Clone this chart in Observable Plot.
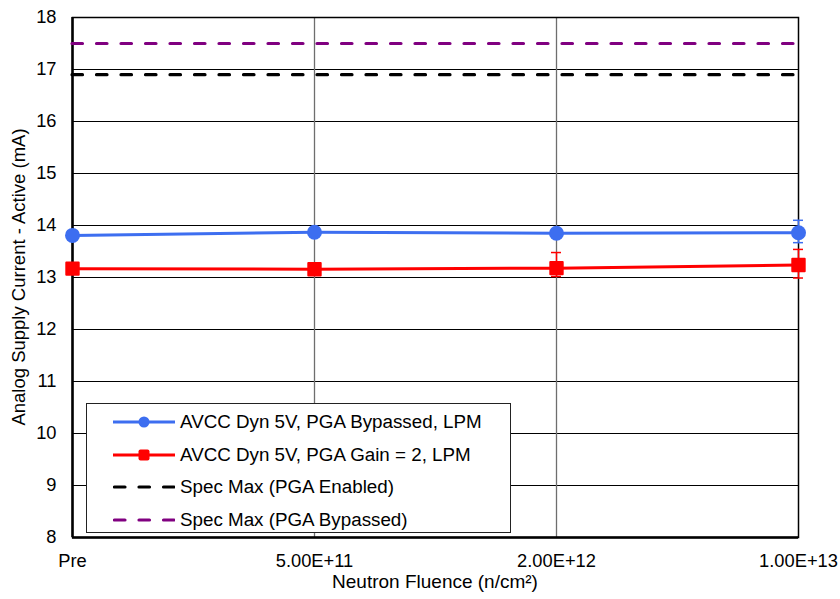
<!DOCTYPE html>
<html>
<head>
<meta charset="utf-8">
<script src="https://cdn.jsdelivr.net/npm/d3@7"></script>
<script src="https://cdn.jsdelivr.net/npm/@observablehq/plot@0.6"></script>
<style>
  html, body { margin: 0; padding: 0; background: #fff; }
  #chart { position: relative; width: 840px; height: 599px; font-family: "Liberation Sans", Arial, sans-serif; }
  #legend {
    position: absolute; left: 86px; top: 403px; width: 425px; height: 130px;
    background: #fff; border: 1px solid #222; box-sizing: border-box;
    padding-top: 2px;
  }
  .row { display: flex; align-items: center; height: 32.5px; font-size: 18.8px; color: #000; }
  .row svg { margin-left: 26px; margin-right: 5px; flex: none; }
</style>
</head>
<body>
<div id="chart"></div>
<script>
// Fluence steps (categorical x axis)
const fluence = ["Pre", "5.00E+11", "2.00E+12", "1.00E+13"];

// Supply current, mA, with upper / lower error extents
const bypassed = [13.81, 13.87, 13.85, 13.86];
const bypassedErrUp = [0.02, 0.02, 0.03, 0.24];
const bypassedErrDown = [0.02, 0.02, 0.03, 0.19];
const gain2 = [13.17, 13.16, 13.18, 13.24];
const gain2ErrUp = [0.02, 0.02, 0.30, 0.30];
const gain2ErrDown = [0.02, 0.02, 0.16, 0.25];

// Specification limits, mA
const specEnabled = 16.9;
const specBypassed = 17.5;

const yTicks = [8, 9, 10, 11, 12, 13, 14, 15, 16, 17, 18];

const seriesNames = [
  "AVCC Dyn 5V, PGA Bypassed, LPM",
  "AVCC Dyn 5V, PGA Gain = 2, LPM",
  "Spec Max (PGA Enabled)",
  "Spec Max (PGA Bypassed)"
];
const colors = { blue: "#3d6ef0", red: "#ff0000", black: "#000000", purple: "#800080" };

const rows = (vals, up, down) => fluence.map((f, i) => ({ f, v: vals[i], lo: vals[i] - down[i], hi: vals[i] + up[i] }));
const blueRows = rows(bypassed, bypassedErrUp, bypassedErrDown);
const redRows = rows(gain2, gain2ErrUp, gain2ErrDown);

const capOpts = (key, color) => ({ x1: "f", x2: "f", y: key, stroke: color, strokeWidth: 1.5, insetLeft: -5, insetRight: -5 });

const plot = Plot.plot({
  width: 840,
  height: 599,
  marginTop: 17,
  marginRight: 42,
  marginBottom: 62,
  marginLeft: 72,
  style: { fontFamily: "'Liberation Sans', Arial, sans-serif", background: "#fff", fontSize: "18.3px" },
  x: { type: "point", domain: fluence, padding: 0 },
  y: { domain: [8, 18] },
  marks: [
    // grid
    Plot.ruleY(yTicks, { stroke: "#000", strokeWidth: 1 }),
    Plot.ruleX(fluence.slice(1, 3), { stroke: "#6e6e6e", strokeWidth: 1.3 }),
    Plot.frame({ stroke: "#000", strokeWidth: 1.5 }),
    Plot.ruleX([fluence[0]], { stroke: "#000", strokeWidth: 2.5 }),
    Plot.ruleY([yTicks[0]], { stroke: "#000", strokeWidth: 2.5 }),
    // spec limits
    Plot.ruleY([specBypassed], { stroke: colors.purple, strokeWidth: 3.2, strokeDasharray: "10.5,14", strokeLinecap: "round" }),
    Plot.ruleY([specEnabled], { stroke: colors.black, strokeWidth: 3.2, strokeDasharray: "10.5,14", strokeLinecap: "round" }),
    // error bars
    Plot.ruleX(blueRows, { x: "f", y1: "lo", y2: "hi", stroke: colors.blue, strokeWidth: 1.5 }),
    Plot.ruleY(blueRows, capOpts("lo", colors.blue)),
    Plot.ruleY(blueRows, capOpts("hi", colors.blue)),
    Plot.ruleX(redRows, { x: "f", y1: "lo", y2: "hi", stroke: colors.red, strokeWidth: 1.5 }),
    Plot.ruleY(redRows, capOpts("lo", colors.red)),
    Plot.ruleY(redRows, capOpts("hi", colors.red)),
    // series
    Plot.line(blueRows, { x: "f", y: "v", stroke: colors.blue, strokeWidth: 3 }),
    Plot.dot(blueRows, { x: "f", y: "v", r: 7.5, fill: colors.blue }),
    Plot.line(redRows, { x: "f", y: "v", stroke: colors.red, strokeWidth: 3 }),
    Plot.dot(redRows, { x: "f", y: "v", symbol: "square", r: 7, fill: colors.red, stroke: colors.red, strokeWidth: 2, strokeLinejoin: "round" }),
    // axes
    Plot.axisY(yTicks, { tickSize: 0, tickPadding: 16, fontSize: 18.3, tickFormat: "d", label: null }),
    Plot.axisX(fluence, { tickSize: 0, tickPadding: 16, fontSize: 18.3, label: null })
  ]
});

const chart = document.getElementById("chart");
chart.appendChild(plot);

// axis titles
const svg = d3.select(plot);
svg.append("text")
  .attr("transform", "translate(20,277) rotate(-90)")
  .attr("text-anchor", "middle")
  .attr("dominant-baseline", "middle")
  .style("font-size", "18.5px")
  .attr("fill", "#000")
  .text("Analog Supply Current - Active (mA)");
svg.append("text")
  .attr("x", 435)
  .attr("y", 583)
  .attr("text-anchor", "middle")
  .attr("dominant-baseline", "middle")
  .style("font-size", "19px")
  .attr("fill", "#000")
  .text("Neutron Fluence (n/cm²)");

// legend
const legend = d3.select(chart).append("div").attr("id", "legend");
const swatches = [
  { color: colors.blue, marker: "circle", dash: null },
  { color: colors.red, marker: "square", dash: null },
  { color: colors.black, marker: null, dash: "10.5,14" },
  { color: colors.purple, marker: null, dash: "10.5,14" }
];
swatches.forEach((s, i) => {
  const row = legend.append("div").attr("class", "row");
  const sw = row.append("svg").attr("width", 62).attr("height", 20);
  sw.append("line").attr("x1", s.dash ? 1.5 : 0).attr("x2", 62).attr("y1", 10).attr("y2", 10)
    .attr("stroke", s.color).attr("stroke-width", s.dash ? 3.2 : 3)
    .attr("stroke-dasharray", s.dash).attr("stroke-linecap", s.dash ? "round" : "butt");
  if (s.marker === "circle") sw.append("circle").attr("cx", 31).attr("cy", 10).attr("r", 5.5).attr("fill", s.color);
  if (s.marker === "square") sw.append("rect").attr("x", 25.5).attr("y", 4.5).attr("width", 11).attr("height", 11).attr("rx", 2).attr("fill", s.color);
  row.append("span").text(seriesNames[i]);
});
</script>
</body>
</html>
